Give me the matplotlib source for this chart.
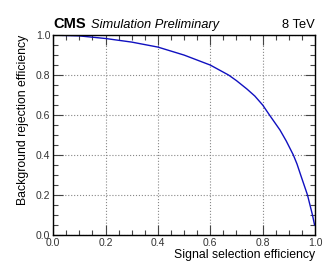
import matplotlib
matplotlib.use("Agg")
import matplotlib.pyplot as plt
from matplotlib.ticker import MultipleLocator, FormatStrFormatter

# ROC curve
sig_eff = [0.0, 0.1, 0.2, 0.3, 0.4, 0.5, 0.6, 0.67, 0.7, 0.74, 0.77, 0.8, 0.826, 0.866, 0.89,
           0.917, 0.931, 0.945, 0.971, 0.99, 0.998]
bkg_rej = [1.0, 0.996, 0.983, 0.965, 0.94, 0.90, 0.85, 0.80, 0.772, 0.73, 0.695, 0.65, 0.60, 0.525, 0.47,
           0.40, 0.355, 0.30, 0.20, 0.10, 0.05]

plt.rcParams['font.family'] = ['Liberation Sans', 'DejaVu Sans']

fig = plt.figure(figsize=(3.32, 2.70), dpi=100)
ax = fig.add_axes([0.16, 0.13, 0.789, 0.74])

ax.plot(sig_eff, bkg_rej, color="#1010c0", lw=1.0)

ax.set_xlim(0, 1)
ax.set_ylim(0, 1)
ax.xaxis.set_major_locator(MultipleLocator(0.2))
ax.xaxis.set_minor_locator(MultipleLocator(0.05))
ax.yaxis.set_major_locator(MultipleLocator(0.2))
ax.yaxis.set_minor_locator(MultipleLocator(0.05))
ax.xaxis.set_major_formatter(FormatStrFormatter("%.1f"))
ax.yaxis.set_major_formatter(FormatStrFormatter("%.1f"))
ax.tick_params(which="both", direction="in", top=True, right=True, labelsize=7.5,
               colors="#444444", labelcolor="#333333")
ax.tick_params(which="major", length=7, width=0.8)
ax.tick_params(which="minor", length=3.5, width=0.8)
ax.tick_params(axis="x", pad=2)
ax.tick_params(axis="y", pad=2)

ax.grid(True, which="major", ls=":", color="#888888", lw=0.8)
for s in ax.spines.values():
    s.set_linewidth(1.0)

ax.set_xlabel("Signal selection efficiency", fontsize=8.8, loc="right", labelpad=1)
ax.set_ylabel("Background rejection efficiency", fontsize=8.8, loc="top", labelpad=5)

fig.text(0.16, 0.885, "CMS", fontsize=10.5, fontweight="bold", va="bottom")
fig.text(0.274, 0.885, "Simulation Preliminary", fontsize=9.3, style="italic", va="bottom")
fig.text(0.949, 0.885, "8 TeV", fontsize=9.3, ha="right", va="bottom")

fig.savefig("out.png", dpi=100)
